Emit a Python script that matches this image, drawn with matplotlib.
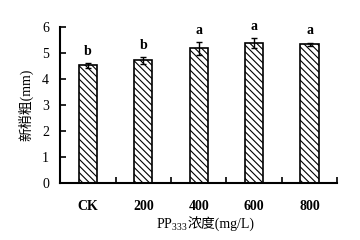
import matplotlib
matplotlib.use("Agg")
import matplotlib.pyplot as plt
from matplotlib.offsetbox import TextArea, HPacker, AnnotationBbox

plt.rcParams['font.family'] = ['Liberation Serif', 'Noto Sans CJK SC']
plt.rcParams['mathtext.fontset'] = 'custom'
plt.rcParams['mathtext.rm'] = 'Liberation Serif'
plt.rcParams['mathtext.it'] = 'Liberation Serif:italic'
plt.rcParams['mathtext.bf'] = 'Liberation Serif:bold'
plt.rcParams['hatch.linewidth'] = 0.8

categories = ["CK", "200", "400", "600", "800"]
values = [4.52, 4.72, 5.18, 5.38, 5.33]
errors = [0.10, 0.13, 0.25, 0.20, 0.07]
letters = ["b", "b", "a", "a", "a"]

fig = plt.figure(figsize=(3.6, 2.4), dpi=100)
ax = fig.add_axes([0.167, 0.2375, 0.77, 0.65])

x = list(range(len(categories)))
ax.bar(x, values, width=0.33, color="white", edgecolor="black",
       linewidth=1.2, hatch="\\\\\\\\\\", zorder=2)
ax.errorbar(x, values, yerr=errors, fmt="none", ecolor="black",
            elinewidth=1.0, capsize=2.5, capthick=1.0, zorder=3)
for xi, v, e, lab in zip(x, values, errors, letters):
    ax.text(xi, v + e + 0.2, lab, ha="center", va="bottom",
            fontsize=10, fontweight="bold")

ax.set_xlim(-0.5, 4.5)
ax.set_ylim(0, 6)
ax.set_yticks(range(0, 7))
ax.set_xticks(x)
ax.set_xticklabels(categories, fontweight="bold")
ax.set_xticks([0.5, 1.5, 2.5, 3.5, 4.5], minor=True)
ax.tick_params(axis="x", which="major", length=0, pad=12, labelsize=10)
ax.tick_params(axis="x", which="minor", direction="in", length=4, width=1.2)
ax.tick_params(axis="y", direction="in", length=4, width=1.2, labelsize=10, pad=8)

for s in ["top", "right"]:
    ax.spines[s].set_visible(False)
for s in ["left", "bottom"]:
    ax.spines[s].set_linewidth(1.5)

ax.set_ylabel("新梢粗(mm)", fontsize=10, labelpad=6)

# x label: PP333 (mathtext subscript), then the Chinese part
parts = HPacker(children=[
    TextArea("PP$_{333}$", textprops=dict(fontsize=10)),
    TextArea("浓度(mg/L)", textprops=dict(fontsize=10)),
], align="baseline", pad=0, sep=0)
ab = AnnotationBbox(parts, (205 / 360, 15 / 240), xycoords="figure fraction",
                    frameon=False, box_alignment=(0.5, 0.5))
fig.add_artist(ab)

fig.savefig("out.png", dpi=100)
